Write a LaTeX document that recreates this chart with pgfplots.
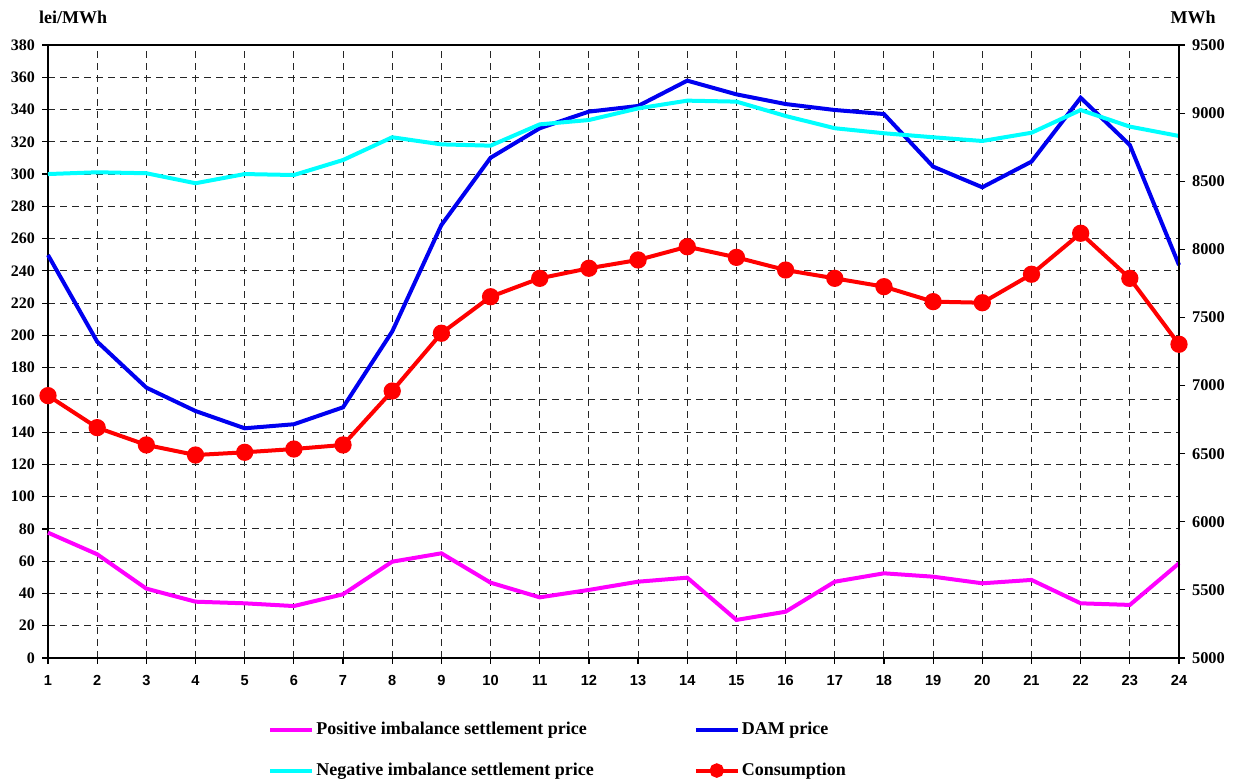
\documentclass[border=0pt]{standalone}
\usepackage{fontspec}
\setmainfont{Liberation Serif}
\newfontfamily\xfont{Liberation Sans}
\usepackage{pgfplots}
\usepackage{pgfplotstable}
\pgfplotsset{compat=1.18}
\definecolor{cMag}{RGB}{255,0,255}
\definecolor{cBlue}{RGB}{0,0,240}
\definecolor{cCyan}{RGB}{0,255,255}
\definecolor{cRed}{RGB}{255,0,0}

\pgfplotstableread{
h pos dam neg
1  77.7 249.8 300.0
2  64.3 196.1 301.1
3  43.0 167.6 300.5
4  34.9 153.1 294.3
5  33.9 142.4 300.0
6  32.2 144.9 299.4
7  39.5 155.4 308.7
8  59.7 202.4 322.8
9  64.9 268.4 318.4
10 46.7 310.1 317.6
11 37.6 328.4 330.8
12 42.2 338.7 333.5
13 47.3 342.2 340.7
14 49.8 357.9 345.5
15 23.6 349.4 344.9
16 28.7 343.4 336.0
17 47.3 339.7 328.4
18 52.5 337.2 325.3
19 50.4 304.6 322.8
20 46.3 291.8 320.5
21 48.4 307.7 325.6
22 33.9 347.3 339.7
23 32.9 318.0 329.4
24 58.7 243.6 323.6
}\prices

\pgfplotstableread{
h cons
1  6926
2  6691
3  6564
4  6490
5  6510
6  6534
7  6564
8  6960
9  7384
10 7652
11 7787
12 7861
13 7922
14 8019
15 7941
16 7848
17 7787
18 7726
19 7616
20 7608
21 7817
22 8118
23 7787
24 7303
}\cons

\pgfplotsset{
  common/.style={
    at={(24pt,61.5pt)}, anchor=south west,
    width=565.5pt, height=306.5pt, scale only axis,
    xmin=1, xmax=24,
    tick align=outside, major tick length=3pt,
    tick style={black, line width=0.6pt},
    axis line style={black, line width=0.7pt},
    /pgf/number format/assume math mode=true,
    /pgf/number format/1000 sep={},
  },
  legend image code/.code={%
    \draw[#1, mark repeat=2, mark phase=2, mark size=2.6pt] plot coordinates {(0pt,0pt) (10.5pt,0pt) (21pt,0pt)};}
}

\begin{document}
\begin{tikzpicture}
\path[use as bounding box] (0,0) rectangle (618.5pt,390.5pt);
\begin{axis}[common,
  clip=false,
  ymin=0, ymax=380, ytick distance=20,
  xtick={1,...,24},
  xtick pos=bottom, ytick pos=left,
  grid=major,
  major grid style={black!85, line width=0.5pt, dash pattern=on 3.5pt off 2.5pt},
  xticklabel style={font=\xfont\bfseries\fontsize{7.3}{8}\selectfont, yshift=-2pt},
  yticklabel style={font=\bfseries\fontsize{8}{9}\selectfont},
]
\addplot[cMag, line width=2pt, no markers] table[x=h, y=pos] {\prices};
\addplot[cBlue, line width=2pt, no markers] table[x=h, y=dam] {\prices};
\addplot[cCyan, line width=2pt, no markers] table[x=h, y=neg] {\prices};
\node[font=\bfseries\fontsize{9}{10}\selectfont] at (rel axis cs:0,1) [xshift=12.5pt, yshift=13.8pt] {lei/MWh};
\node[font=\bfseries\fontsize{9}{10}\selectfont] at (rel axis cs:1,1) [xshift=7pt, yshift=13.8pt] {MWh};
\end{axis}
\begin{axis}[common,
  ymin=5000, ymax=9500, ytick distance=500,
  axis x line=none, axis y line*=right,
  yticklabel style={font=\bfseries\fontsize{8.2}{9}\selectfont},
  legend columns=2,
  legend cell align=left,
  legend style={at={(rel axis cs:0.1945,-0.101)}, anchor=north west, draw=none, fill=none, inner sep=0pt,
    font=\bfseries\fontsize{9}{10}\selectfont,
    row sep=10.5pt,
    nodes={inner sep=1pt},
    /tikz/every even column/.append style={column sep=49pt}},
]
\addlegendimage{cMag, line width=2pt}
\addlegendentry{Positive imbalance settlement price}
\addlegendimage{cBlue, line width=2pt}
\addlegendentry{DAM price}
\addlegendimage{cCyan, line width=2pt}
\addlegendentry{Negative imbalance settlement price}
\addplot[cRed, line width=2pt, mark=*, mark size=3.3pt, mark options={solid}] table[x=h, y=cons] {\cons};
\addlegendentry{Consumption}
\end{axis}
\end{tikzpicture}
\end{document}
